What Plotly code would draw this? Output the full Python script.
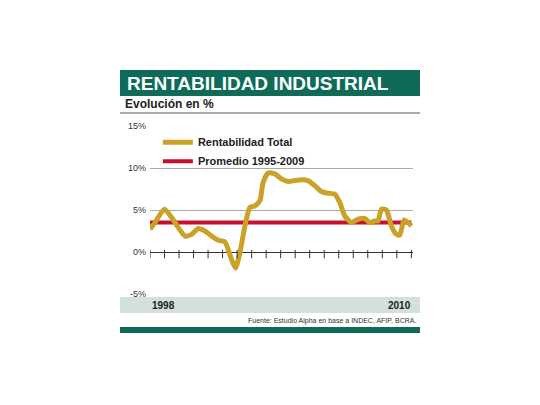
import plotly.graph_objects as go

valores = [2.7,3.5,5.1,4.1,2.9,1.9,2.1,2.8,2.5,1.9,1.4,1.2,-0.9,-1.9,-0.1,3.1,5.3,5.5,6.1,8.3,9.4,9.3,8.7,8.4,8.5,8.6,8.5,7.9,7.2,7.0,6.9,5.9,4.3,3.5,3.9,4.0,3.5,3.7,3.7,5.1,5.0,3.1,2.1,2.0,3.8,3.5,3.1]
xpos = [105,120,148,170,190,210,230,250,270,290,310,330,350,362,375,390,405,420,435,445,460,480,500,520,540,560,580,600,620,640,660,675,690,710,730,750,765,780,790,800,815,830,845,855,868,880,890]
promedio = 3.5
ticks_x = [105 + i*785/18 for i in range(19)]
y_ticks = [15, 10, 5, 0, -5]

F = "Liberation Sans Narrow, Arial Narrow, Liberation Sans, sans-serif"
GOLD = "#c9a227"; RED = "#c8102e"; GREEN = "#0d6b58"

fig = go.Figure()
fig.add_trace(go.Scatter(x=[xpos[0], xpos[-1]], y=[promedio, promedio], mode="lines",
                         name="<b>Promedio 1995-2009</b>", line=dict(color=RED, width=4)))
fig.add_trace(go.Scatter(x=xpos, y=valores, mode="lines", name="<b>Rentabilidad Total</b>",
                         line=dict(color=GOLD, width=5, shape="spline", smoothing=0.6)))
fig.add_trace(go.Scatter(x=ticks_x, y=[-0.25]*len(ticks_x), mode="markers", showlegend=False,
                         marker=dict(symbol="line-ns-open", size=6, color="#333", line=dict(color="#333", width=1)),
                         hoverinfo="skip"))

def px(X): return (X-150)/263
def py(Y): return (294-Y)/168

shapes = [
    dict(type="rect", xref="paper", yref="paper", x0=px(120), x1=px(420), y0=py(96), y1=py(70),
         fillcolor=GREEN, line_width=0, layer="below"),
    dict(type="line", xref="paper", yref="paper", x0=px(120), x1=px(420), y0=py(113), y1=py(113),
         line=dict(color="#555", width=1)),
    dict(type="rect", xref="paper", yref="paper", x0=px(120), x1=px(420), y0=py(313), y1=py(297),
         fillcolor="#d3e1dd", line_width=0, layer="below"),
    dict(type="rect", xref="paper", yref="paper", x0=px(120), x1=px(420), y0=py(333), y1=py(327),
         fillcolor=GREEN, line_width=0, layer="below"),
]
ann = [
    dict(text="<b>RENTABILIDAD INDUSTRIAL</b>", x=px(125), y=py(83), font=dict(size=19, color="white", family=F),
         xanchor="left", yanchor="middle"),
    dict(text="<b>Evolución en %</b>", x=px(123), y=py(104), font=dict(size=12, color="#222", family=F),
         xanchor="left", yanchor="middle"),
    dict(text="<b>1998</b>", x=px(150), y=py(305), font=dict(size=10, color="#222", family=F),
         xanchor="left", yanchor="middle"),
    dict(text="<b>2010</b>", x=px(413), y=py(305), font=dict(size=10, color="#222", family=F),
         xanchor="right", yanchor="middle"),
    dict(text="Fuente: Estudio Alpha en base a INDEC, AFIP, BCRA.", x=px(418), y=py(321),
         font=dict(size=7, color="#333", family=F), xanchor="right", yanchor="middle"),
]
for a in ann:
    a.update(xref="paper", yref="paper", showarrow=False)

fig.update_layout(
    width=540, height=405, paper_bgcolor="white", plot_bgcolor="white",
    margin=dict(l=142, r=135, t=118, b=119),
    shapes=shapes, annotations=ann,
    legend=dict(x=0.03, y=0.99, xanchor="left", yanchor="top", bgcolor="rgba(0,0,0,0)",
                font=dict(size=11, family=F, color="#222"), traceorder="reversed",
                itemwidth=30, tracegroupgap=0),
    xaxis=dict(range=[105, 895], showgrid=False, showticklabels=False, zeroline=False, fixedrange=True),
    yaxis=dict(range=[-5, 15], tickvals=y_ticks, ticktext=[f"{v}%" for v in y_ticks],
               showgrid=True, gridcolor="#aaaaaa", gridwidth=1, zeroline=True, zerolinecolor="#333",
               zerolinewidth=1, tickfont=dict(size=9, color="#333", family=F), ticks="", ticklabelstandoff=3),
)
fig.write_html("out.html")
